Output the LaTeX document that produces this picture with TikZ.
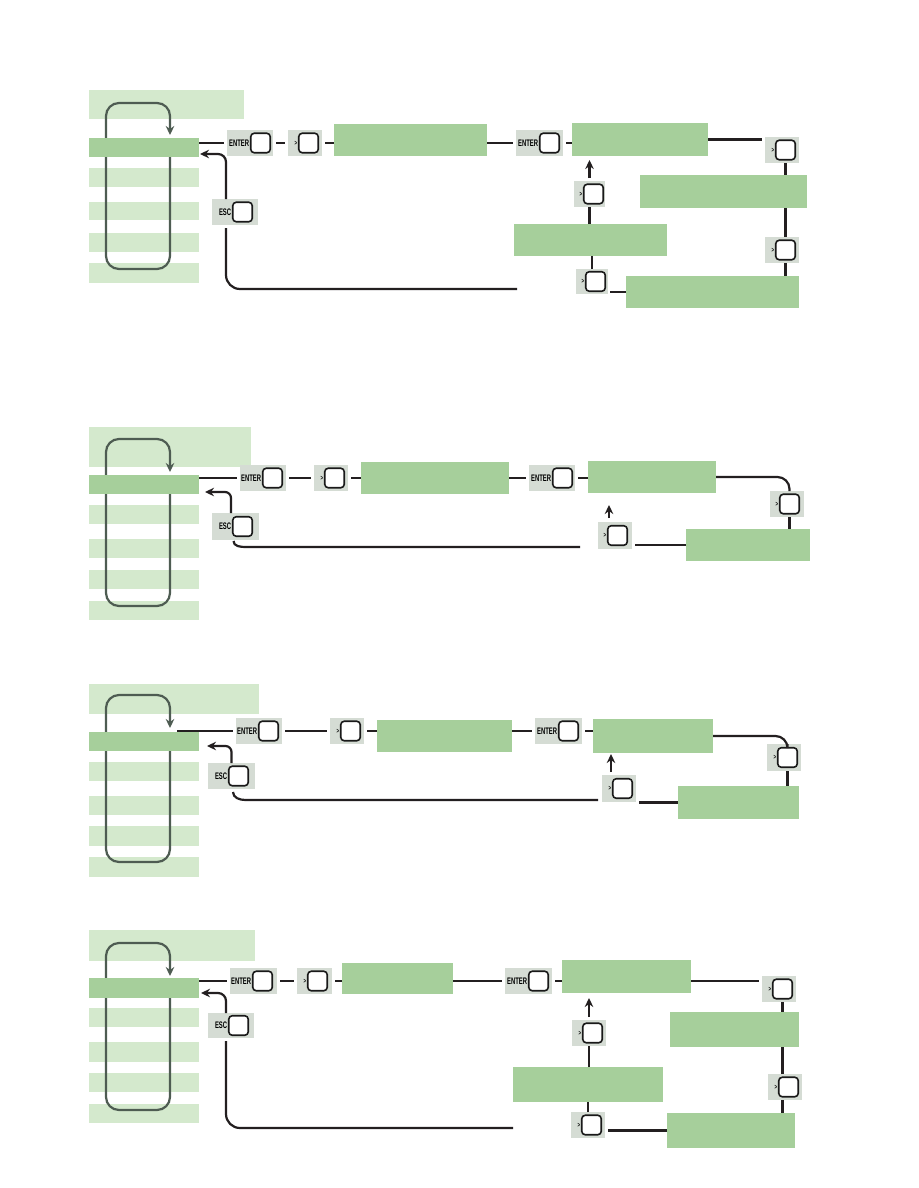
\documentclass[tikz,border=0pt]{standalone}
\usepackage{fontspec}
\usetikzlibrary{fit,arrows.meta}
\newfontfamily\keyfont{Liberation Sans}[FakeStretch=0.62]
\definecolor{dgreen}{HTML}{A6CF9B}
\definecolor{lgreen}{HTML}{D4E9CD}
\definecolor{keygray}{HTML}{D5DCD4}
\definecolor{lineblk}{HTML}{231F20}
\definecolor{loopc}{HTML}{4E5C52}
\tikzset{
 gbox/.style={rectangle, fill=dgreen, draw=none, inner sep=0pt, outer sep=0pt},
 lbox/.style={rectangle, fill=lgreen, draw=none, inner sep=0pt, outer sep=0pt},
 keybg/.style={rectangle, fill=keygray, draw=none, inner sep=0pt, outer sep=0pt},
 keysq/.style={rectangle, fill=white, draw=black!90, line width=1.6pt, rounded corners=3.5pt, minimum width=19.5pt, minimum height=19.5pt, inner sep=0pt},
 keylbl/.style={font=\keyfont\bfseries\fontsize{9.5}{10}\selectfont, inner sep=0.6pt, text=black},
 conn/.style={draw=lineblk, line width=2.2pt},
 tip/.style={-{Stealth[length=9pt,width=8.5pt]}},
 rtip/.style={{Stealth[length=9pt,width=8.5pt]}-},
 loopln/.style={draw=loopc, line width=2.2pt, rounded corners=13pt},
}
\newcommand\gtl{{\fontsize{7}{7}\selectfont >}}
\newcommand\mkbox[6]{\node[#1, fit={(#3,#4) (#5,#6)}] (#2) {};}
\newcommand\mkkey[7]{%
  \node[keybg, fit={(#3,#4) (#5,#6)}] (#1) {};
  \node[keysq] (#1k) at (#7+10.5, {(#4+#6)/2}) {};
  \node[keylbl, anchor=east] at (#1k.west) {#2};
}
\begin{document}
\begin{tikzpicture}[x=1pt,y=-1pt]
\useasboundingbox (0,0) rectangle (918,1188);
\fill[white] (0,0) rectangle (918,1188);

%% ================= Panel A =================
\mkbox{lbox}{Ahead}{89}{90}{244}{119}
\mkbox{lbox}{Ar1}{89}{168}{199}{187}
\mkbox{lbox}{Ar2}{89}{202}{199}{220}
\mkbox{lbox}{Ar3}{89}{233}{199}{252}
\mkbox{lbox}{Ar4}{89}{263}{199}{283}
\draw[loopln, rtip] (170,135) -- (170,103) -- (106,103) -- (106,269) -- (170,269) -- (170,157);
\mkbox{gbox}{Arow}{89}{138}{199}{157}
\mkkey{Aent}{ENTER}{227}{130}{273}{156}{250}
\mkkey{Agt1}{\gtl}{288}{130}{322}{156}{298}
\mkbox{gbox}{Ab1}{334}{124}{487}{156}
\mkkey{Aent2}{ENTER}{516}{130}{563}{156}{539}
\mkbox{gbox}{Ab2}{572}{123}{708}{156}
\mkkey{Agt2}{\gtl}{765}{137}{799}{163}{775}
\mkbox{gbox}{Ab3}{640}{175}{807}{208}
\mkkey{Agt3}{\gtl}{765}{237}{799}{263}{775}
\mkbox{gbox}{Ab4}{626}{276}{799}{308}
\mkkey{Agt4}{\gtl}{576}{269}{608}{294}{585}
\mkbox{gbox}{Ab5}{514}{224}{667}{256}
\mkkey{Agt5}{\gtl}{574}{181}{605}{207}{583}
\mkkey{Aesc}{ESC}{212}{199}{258}{225}{232}
\coordinate (AescEnd) at (517,289);

\draw[conn, shorten >=3pt] (Aent.west -| Arow.east) -- (Aent.west);
\draw[conn, shorten <=3pt, shorten >=3pt] (Aent.east) -- (Agt1.west);
\draw[conn, shorten <=3pt] (Agt1.east) -- (Agt1.east -| Ab1.west);
\draw[conn, shorten >=3pt] (Aent2.west -| Ab1.east) -- (Aent2.west);
\draw[conn, shorten <=3pt] (Aent2.east) -- (Aent2.east -| Ab2.west);
\draw[conn, shorten >=3pt] (Ab2.east) -- (Ab2.east -| Agt2.west);
\draw[conn] (Agt2k.south |- Agt2.south) -- (Agt2k.south |- Ab3.north);
\draw[conn] (Agt3k.north |- Ab3.south) -- (Agt3k.north |- Agt3.north);
\draw[conn] (Agt3k.south |- Agt3.south) -- (Agt3k.south |- Ab4.north);
\draw[conn, shorten >=2pt] (Ab4.west) -- (Ab4.west -| Agt4.east);
\draw[conn] (Agt4.north) -- (Agt4.north |- Ab5.south);
\draw[conn] (Ab5.north -| Agt5.south) -- (Agt5.south);
\draw[conn, tip, shorten >=4pt] ([yshift=3pt]Agt5.north) -- (Agt5.north |- Ab2.south);
\draw[conn, rounded corners=14pt] ([xshift=-9pt,yshift=-3pt]Aesc.south) -- ([xshift=-9pt]Aesc.south |- AescEnd) -- (AescEnd);
\draw[conn, rounded corners=8pt, tip] ([xshift=-9pt]Aesc.north) |- ([xshift=1pt,yshift=-6.5pt]Arow.east);

%% ================= Panel B =================
\mkbox{lbox}{Bhead}{89}{427}{251}{467}
\mkbox{lbox}{Br1}{89}{505}{199}{524}
\mkbox{lbox}{Br2}{89}{539}{199}{558}
\mkbox{lbox}{Br3}{89}{570}{199}{589}
\mkbox{lbox}{Br4}{89}{601}{199}{620}
\draw[loopln, rtip] (170,472) -- (170,439) -- (106,439) -- (106,606) -- (170,606) -- (170,494);
\mkbox{gbox}{Brow}{89}{475}{199}{494}
\mkkey{Bent}{ENTER}{240}{465}{286}{491}{262}
\mkkey{Bgt1}{\gtl}{314}{465}{348}{491}{324}
\mkbox{gbox}{Bb1}{361}{462}{509}{494}
\mkkey{Bent2}{ENTER}{529}{465}{575}{491}{552}
\mkbox{gbox}{Bb2}{588}{461}{716}{493}
\mkkey{Bgt2}{\gtl}{770}{491}{804}{517}{779}
\mkbox{gbox}{Bb3}{686}{529}{810}{561}
\mkkey{Bgt3}{\gtl}{598}{522}{632}{549}{607}
\mkkey{Besc}{ESC}{212}{513}{259}{540}{232}
\coordinate (BescEnd) at (580,547);

\draw[conn, shorten >=3pt] (Bent.west -| Brow.east) -- (Bent.west);
\draw[conn, shorten <=3pt, shorten >=3pt] (Bent.east) -- (Bgt1.west);
\draw[conn, shorten <=3pt] (Bgt1.east) -- (Bgt1.east -| Bb1.west);
\draw[conn, shorten >=3pt] (Bent2.west -| Bb1.east) -- (Bent2.west);
\draw[conn, shorten <=3pt] (Bent2.east) -- (Bent2.east -| Bb2.west);
\draw[conn, rounded corners=12pt] (Bb2.east) -| (Bgt2k.north |- Bgt2.north);
\draw[conn] (Bgt2k.south |- Bgt2.south) -- (Bgt2k.south |- Bb3.north);
\draw[conn, shorten >=3pt] (Bb3.west) -- (Bb3.west -| Bgt3.east);
\draw[conn, tip, shorten >=12pt] ([xshift=-6pt,yshift=4pt]Bgt3.north) -- ([xshift=-6pt]Bgt3.north |- Bb2.south);
\draw[conn] ([xshift=-2pt,yshift=-1pt]Besc.south) to[out=-90,in=180] ([xshift=10pt]Besc.south |- BescEnd) -- (BescEnd);
\draw[conn, rounded corners=6pt, tip] ([xshift=-4.5pt]Besc.north) |- ([xshift=6pt,yshift=-7.5pt]Brow.east);

%% ================= Panel C =================
\mkbox{lbox}{Chead}{89}{684}{259}{714}
\mkbox{lbox}{Cr1}{89}{762}{199}{781}
\mkbox{lbox}{Cr2}{89}{796}{199}{815}
\mkbox{lbox}{Cr3}{89}{826}{199}{846}
\mkbox{lbox}{Cr4}{89}{857}{199}{877}
\draw[loopln, rtip] (170,728) -- (170,695) -- (106,695) -- (106,862) -- (170,862) -- (170,751);
\mkbox{gbox}{Crow}{89}{732}{199}{751}
\mkkey{Cent}{ENTER}{236}{718}{282}{744}{258}
\mkkey{Cgt1}{\gtl}{330}{718}{364}{744}{340}
\mkbox{gbox}{Cb1}{377}{720}{512}{752}
\mkkey{Cent2}{ENTER}{535}{718}{582}{744}{558}
\mkbox{gbox}{Cb2}{593}{719}{713}{753}
\mkkey{Cgt2}{\gtl}{767}{744}{801}{771}{777}
\mkbox{gbox}{Cb3}{678}{786}{799}{819}
\mkkey{Cgt3}{\gtl}{602}{775}{636}{802}{612}
\mkkey{Cesc}{ESC}{208}{763}{255}{789}{228}
\coordinate (CescEnd) at (598,800);

\draw[conn, shorten >=3pt] ([xshift=-22pt]Crow.east |- Cent.west) -- (Cent.west);
\draw[conn, shorten <=3pt, shorten >=3pt] (Cent.east) -- (Cgt1.west);
\draw[conn, shorten <=3pt] (Cgt1.east) -- (Cgt1.east -| Cb1.west);
\draw[conn, shorten >=3pt] (Cent2.west -| Cb1.east) -- (Cent2.west);
\draw[conn, shorten <=3pt] (Cent2.east) -- (Cent2.east -| Cb2.west);
\draw[conn, rounded corners=12pt] (Cb2.east) -| (Cgt2k.north |- Cgt2.north);
\draw[conn] (Cgt2k.south |- Cgt2.south) -- (Cgt2k.south |- Cb3.north);
\draw[conn, shorten >=3pt] (Cb3.west) -- (Cb3.west -| Cgt3.east);
\draw[conn, tip, shorten >=1pt] ([xshift=-8pt,yshift=3pt]Cgt3.north) -- ([xshift=-8pt]Cgt3.north |- Cb2.south);
\draw[conn] ([xshift=1.5pt,yshift=-3pt]Cesc.south) to[out=-90,in=180] ([xshift=14pt]Cesc.south |- CescEnd) -- (CescEnd);
\draw[conn, rounded corners=6pt, tip] (Cesc.north) |- ([xshift=8pt,yshift=-4.5pt]Crow.east);

%% ================= Panel D =================
\mkbox{lbox}{Dhead}{89}{930}{255}{961}
\mkbox{lbox}{Dr1}{89}{1008}{199}{1027}
\mkbox{lbox}{Dr2}{89}{1042}{199}{1062}
\mkbox{lbox}{Dr3}{89}{1073}{199}{1092}
\mkbox{lbox}{Dr4}{89}{1104}{199}{1123}
\draw[loopln, rtip] (170,976) -- (170,943) -- (106,943) -- (106,1110) -- (170,1110) -- (170,998);
\mkbox{gbox}{Drow}{89}{978}{199}{998}
\mkkey{Dent}{ENTER}{230}{968}{277}{994}{252}
\mkkey{Dgt1}{\gtl}{297}{968}{332}{994}{307}
\mkbox{gbox}{Db1}{342}{963}{453}{994}
\mkkey{Dent2}{ENTER}{505}{968}{552}{994}{528}
\mkbox{gbox}{Db2}{562}{960}{691}{993}
\mkkey{Dgt2}{\gtl}{762}{976}{796}{1002}{772}
\mkbox{gbox}{Db3}{670}{1012}{799}{1047}
\mkkey{Dgt3}{\gtl}{768}{1074}{802}{1100}{778}
\mkbox{gbox}{Db4}{667}{1113}{795}{1148}
\mkkey{Dgt4}{\gtl}{571}{1112}{605}{1138}{581}
\mkbox{gbox}{Db5}{513}{1067}{663}{1102}
\mkkey{Dgt5}{\gtl}{572}{1020}{606}{1046}{582}
\mkkey{Desc}{ESC}{208}{1013}{254}{1038}{228}
\coordinate (DescEnd) at (513,1128);

\draw[conn, shorten >=3pt] (Dent.west -| Drow.east) -- (Dent.west);
\draw[conn, shorten <=3pt, shorten >=3pt] (Dent.east) -- (Dgt1.west);
\draw[conn, shorten <=3pt] (Dgt1.east) -- (Dgt1.east -| Db1.west);
\draw[conn, shorten >=3pt] (Dent2.west -| Db1.east) -- (Dent2.west);
\draw[conn, shorten <=3pt] (Dent2.east) -- (Dent2.east -| Db2.west);
\draw[conn, shorten >=3pt] (Dent2.east -| Db2.east) -- (Dent2.east -| Dgt2.west);
\draw[conn] (Dgt2k.south |- Dgt2.south) -- (Dgt2k.south |- Db3.north);
\draw[conn] (Dgt2k.south |- Db3.south) -- (Dgt2k.south |- Dgt3.north);
\draw[conn] (Dgt2k.south |- Dgt3.south) -- (Dgt2k.south |- Db4.north);
\draw[conn, shorten >=3pt] (Db4.west) -- (Db4.west -| Dgt4.east);
\draw[conn] (Dgt4.north) -- (Dgt4.north |- Db5.south);
\draw[conn] (Db5.north -| Dgt5.south) -- (Dgt5.south);
\draw[conn, tip, shorten >=5pt] ([yshift=3pt]Dgt5.north) -- (Dgt5.north |- Db2.south);
\draw[conn, rounded corners=14pt] ([xshift=-5pt,yshift=-3pt]Desc.south) -- ([xshift=-5pt]Desc.south |- DescEnd) -- (DescEnd);
\draw[conn, rounded corners=8pt, tip] ([xshift=-5pt]Desc.north) |- ([xshift=2pt,yshift=-5pt]Drow.east);
\end{tikzpicture}
\end{document}
